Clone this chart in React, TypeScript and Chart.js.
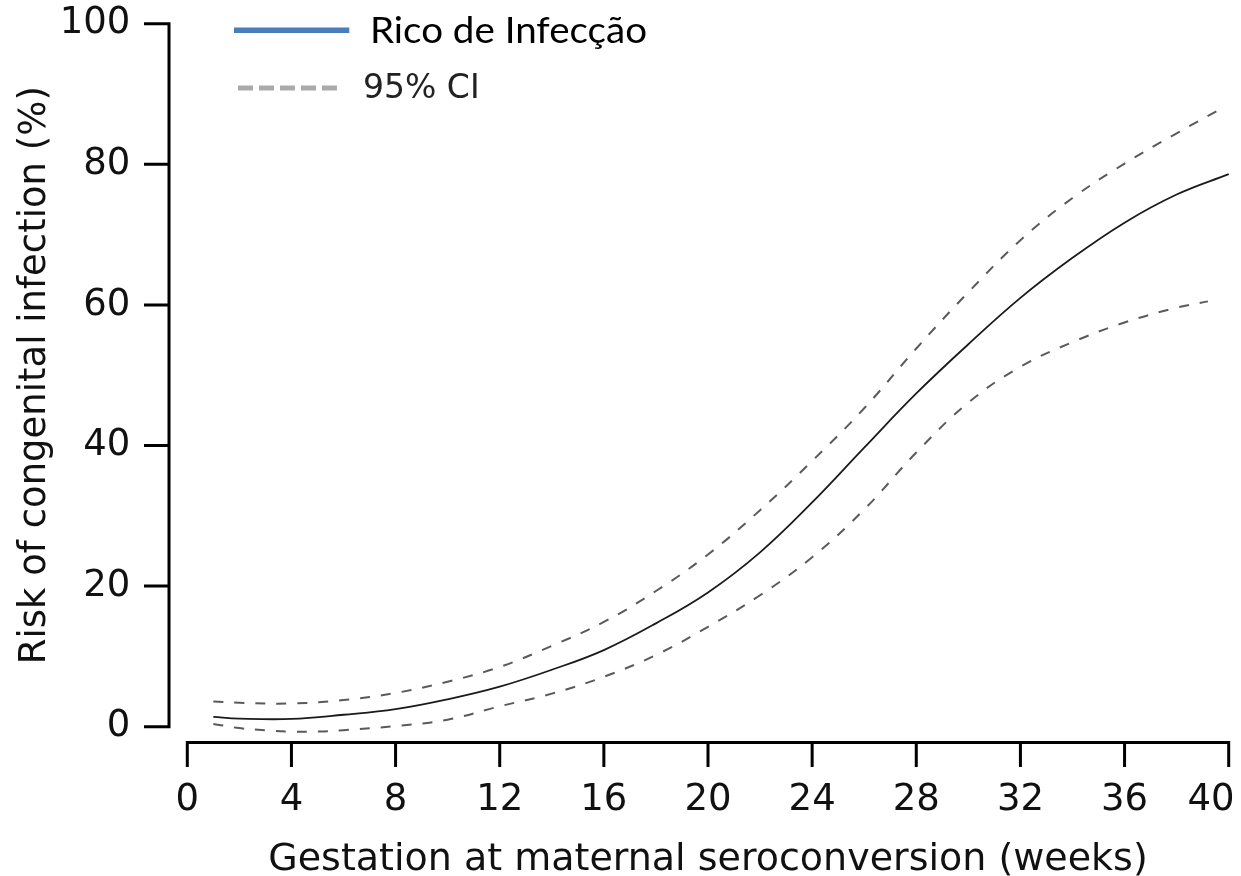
import { useEffect, useRef } from 'react';
import { Chart, registerables } from 'chart.js';

Chart.register(...registerables);

// ---- Data ----
const weeks = [1, 2, 4, 6, 8, 10, 12, 14, 16, 18, 20, 22, 24, 26, 28, 30, 32, 34, 36, 38, 40];
const risk = [1.4, 1.15, 1.1, 1.7, 2.5, 3.9, 5.7, 8.1, 10.9, 14.7, 19.1, 24.8, 31.9, 39.7, 47.4, 54.4, 61.0, 66.7, 71.7, 75.7, 78.6];

const upperWeeks = [1, 2, 4, 6, 8, 10, 12, 14, 16, 18, 20, 22, 24, 26, 28, 30, 32, 34, 36, 38, 39.9];
const upperCI = [3.6, 3.4, 3.3, 3.8, 4.8, 6.4, 8.5, 11.5, 14.9, 19.3, 24.5, 30.8, 37.8, 45.3, 53.8, 61.8, 69.2, 75.2, 80.1, 84.4, 88.3];

const lowerWeeks = [1, 2, 3, 4, 5, 6, 8, 10, 12, 14, 16, 18, 20, 22, 24, 26, 28, 30, 32, 34, 36, 38, 39.2];
const lowerCI = [0.4, -0.2, -0.5, -0.7, -0.7, -0.5, 0.1, 1.0, 2.9, 4.7, 7.1, 10.2, 14.2, 18.7, 24.1, 30.9, 39.0, 46.1, 51.2, 54.7, 57.5, 59.6, 60.5];

const xMin = 0;
const xMax = 40;
const xStep = 4;
const yMin = 0;
const yMax = 100;
const yStep = 20;

const seriesLabel = 'Rico de Infecção';
const ciLabel = '95% CI';
const xTitle = 'Gestation at maternal seroconversion (weeks)';
const yTitle = 'Risk of congenital infection (%)';

const toPoints = (xs: number[], ys: number[]) => xs.map((x, i) => ({ x, y: ys[i] }));

const AXIS_FONT = "'DejaVu Sans', Verdana, sans-serif";

// Offset (R-style) axes: lines and ticks drawn from the chart's own scales
const offsetAxesPlugin = {
  id: 'offsetAxes',
  afterDraw(chart: any) {
    const { ctx, chartArea, scales } = chart;
    const x = scales.x;
    const y = scales.y;
    ctx.save();
    ctx.strokeStyle = '#000';
    ctx.lineWidth = 3;
    ctx.lineCap = 'butt';
    // y axis
    const ax = chartArea.left - 18.3;
    const yTop = y.getPixelForValue(yMax);
    const yBot = y.getPixelForValue(yMin);
    ctx.beginPath();
    ctx.moveTo(ax, yTop - 1.5);
    ctx.lineTo(ax, yBot + 1.5);
    y.ticks.forEach((t: any) => {
      const py = y.getPixelForValue(t.value);
      ctx.moveTo(ax - 25, py);
      ctx.lineTo(ax + 1.5, py);
    });
    ctx.stroke();
    // x axis
    const ay = chartArea.bottom + 15.8;
    const xL = x.getPixelForValue(xMin);
    const xR = x.getPixelForValue(xMax);
    ctx.beginPath();
    ctx.moveTo(xL - 1.5, ay);
    ctx.lineTo(xR + 1.5, ay);
    x.ticks.forEach((t: any) => {
      const px = x.getPixelForValue(t.value);
      ctx.moveTo(px, ay - 1.5);
      ctx.lineTo(px, ay + 24.5);
    });
    ctx.stroke();
    ctx.restore();
  },
};

// Legend drawn at the top-left of the plot
const legendPlugin = {
  id: 'customLegend',
  afterDraw(chart: any) {
    const { ctx } = chart;
    const ds = chart.data.datasets;
    ctx.save();
    // solid series entry
    ctx.strokeStyle = '#4a7ebb';
    ctx.lineWidth = 5.5;
    ctx.beginPath();
    ctx.moveTo(234, 30.3);
    ctx.lineTo(349.3, 30.3);
    ctx.stroke();
    ctx.fillStyle = '#000';
    ctx.font = "36px Lato, 'Open Sans', sans-serif";
    ctx.textBaseline = 'alphabetic';
    ctx.textAlign = 'left';
    const t1 = ds[0].label;
    const w1 = ctx.measureText(t1).width;
    const sx = 277 / w1;
    ctx.save();
    ctx.translate(370, 43);
    ctx.scale(sx, 1);
    ctx.fillText(t1, 0, 0);
    ctx.restore();
    // CI entry
    ctx.strokeStyle = '#aaaaaa';
    ctx.lineWidth = 5;
    ctx.setLineDash([15, 6]);
    ctx.beginPath();
    ctx.moveTo(238, 88);
    ctx.lineTo(337, 88);
    ctx.stroke();
    ctx.setLineDash([]);
    ctx.fillStyle = '#222';
    ctx.font = `33px ${AXIS_FONT}`;
    ctx.fillText(ds[1].label, 363, 98.3);
    ctx.restore();
  },
};

export default function App() {
  const ref = useRef<HTMLCanvasElement>(null);

  useEffect(() => {
    if (!ref.current) return;
    const tickFont = { family: AXIS_FONT, size: 37, lineHeight: 1 };
    const chart = new Chart(ref.current, {
      type: 'line',
      data: {
        datasets: [
          {
            label: seriesLabel,
            data: toPoints(weeks, risk),
            borderColor: '#1a1a1a',
            borderWidth: 1.8,
            pointRadius: 0,
            tension: 0.4,
            clip: false as any,
          },
          {
            label: ciLabel,
            data: toPoints(upperWeeks, upperCI),
            borderColor: '#5a5a5a',
            borderWidth: 2,
            borderDash: [10, 11],
            pointRadius: 0,
            tension: 0.4,
            clip: false as any,
          },
          {
            label: ciLabel,
            data: toPoints(lowerWeeks, lowerCI),
            borderColor: '#5a5a5a',
            borderWidth: 2,
            borderDash: [10, 11],
            pointRadius: 0,
            tension: 0.4,
            clip: false as any,
          },
        ],
      },
      options: {
        responsive: false,
        animation: false,
        devicePixelRatio: 1,
        layout: { padding: { left: 0, top: 23.7, right: 12.3, bottom: 0 } },
        plugins: {
          legend: { display: false },
          tooltip: { enabled: false },
        },
        scales: {
          x: {
            type: 'linear',
            min: xMin,
            max: xMax,
            border: { display: false },
            grid: { display: false, drawTicks: false },
            ticks: {
              stepSize: xStep,
              autoSkip: false,
              maxRotation: 0,
              padding: 55,
              color: '#111',
              font: tickFont,
              callback: (v: any) => (Number(v) === xMax ? `${v}\u00A0\u00A0\u00A0` : `${v}`),
            },
            title: {
              display: true,
              text: xTitle,
              color: '#111',
              padding: 0,
              font: { family: AXIS_FONT, size: 38, lineHeight: 0.85 },
            },
            afterFit: (s: any) => {
              s.height = 149.3;
              s.paddingLeft = 0;
              s.paddingRight = 0;
            },
          },
          y: {
            type: 'linear',
            min: yMin,
            max: yMax,
            border: { display: false },
            grid: { display: false, drawTicks: false },
            ticks: {
              stepSize: yStep,
              padding: 57,
              color: '#111',
              font: tickFont,
            },
            title: {
              display: true,
              text: yTitle,
              color: '#111',
              padding: { top: 17, bottom: 0 },
              font: { family: AXIS_FONT, size: 37, lineHeight: 1 },
            },
            afterFit: (s: any) => {
              s.width = 187.3;
              s.paddingTop = 0;
              s.paddingBottom = 0;
            },
          },
        },
      },
      plugins: [offsetAxesPlugin, legendPlugin],
    } as any);
    return () => chart.destroy();
  }, []);

  return (
    <div style={{ position: 'fixed', left: 0, top: 0, width: 1241, height: 876, background: '#fff' }}>
      <canvas ref={ref} width={1241} height={876} style={{ display: 'block', width: 1241, height: 876 }} />
    </div>
  );
}
